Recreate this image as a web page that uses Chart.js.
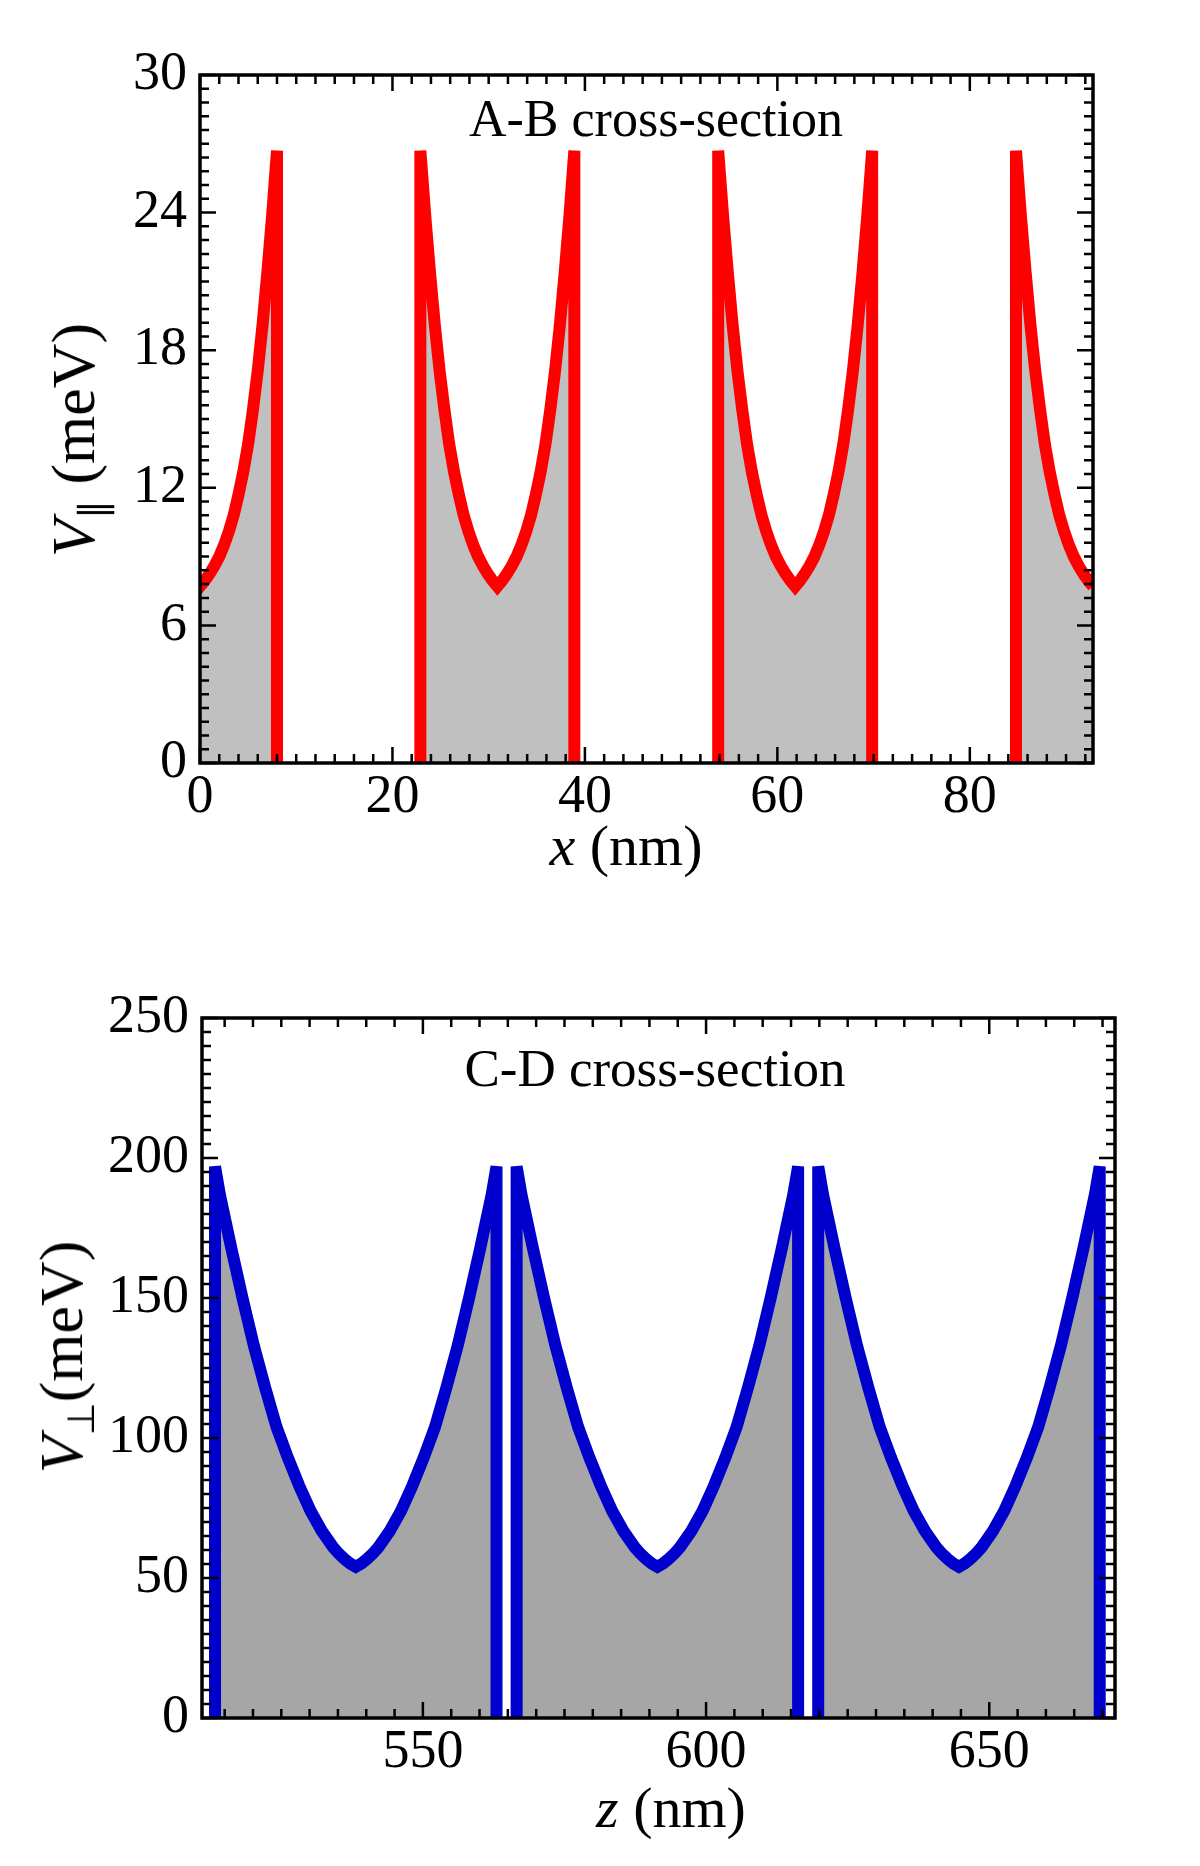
<!DOCTYPE html>
<html>
<head>
<meta charset="utf-8">
<script src="https://cdn.jsdelivr.net/npm/chart.js@4.4.1/dist/chart.umd.min.js"></script>
<style>
  body { margin: 0; background: #fff; }
  #wrap { position: relative; width: 1200px; height: 1866px; font-family: "Liberation Serif", "Times New Roman", serif; color: #000; }
  canvas { position: absolute; left: 0; }
  .lbl { position: absolute; white-space: nowrap; line-height: 1; }
  .ctr { transform: translate(-50%, -50%); }
  .rot { transform: translate(-50%, -50%) rotate(-90deg); }
  sub { font-size: 0.62em; vertical-align: -0.3em; font-style: normal; }
</style>
</head>
<body>
<div id="wrap">
  <canvas id="ab" width="1200" height="933" style="top:0"></canvas>
  <canvas id="cd" width="1200" height="933" style="top:933px"></canvas>

  <div class="lbl ctr" style="left:656px;top:119px;font-size:52px">A-B cross-section</div>
  <div class="lbl rot" style="left:77px;top:440px;font-size:62px"><i>V</i><sub>&#8741;</sub> (meV)</div>
  <div class="lbl ctr" style="left:626px;top:846px;font-size:58px"><i>x</i> (nm)</div>

  <div class="lbl ctr" style="left:655px;top:1068px;font-size:53px">C-D cross-section</div>
  <div class="lbl rot" style="left:65px;top:1357px;font-size:62px"><i>V</i><sub>&#8869;</sub>(meV)</div>
  <div class="lbl ctr" style="left:671px;top:1808px;font-size:58px"><i>z</i> (nm)</div>
</div>
<script>
/* A-B cross-section, V parallel */
const abCentres = [0, 30.9, 61.85, 92.8];                          // well centres (nm)
const abDist = [0, 0.5, 1, 1.5, 2, 2.5, 3, 3.5, 4, 4.5, 5, 5.5, 6, 6.5, 7, 7.5, 8]; // from centre (nm)
const abV = [7.7, 7.95, 8.25, 8.6, 9.0, 9.5, 10.1, 10.8, 11.7, 12.7, 13.9, 15.4, 17.1, 19.1, 21.4, 23.9, 26.7]; // meV
const abXTicks = [0, 20, 40, 60, 80];
const abYTicks = [0, 6, 12, 18, 24, 30];

/* C-D cross-section, V perpendicular */
const cdCentres = [538.15, 591.4, 644.65];
const cdDist = [0, 1, 2, 3, 4, 6, 8, 10, 12, 14, 16, 18, 20, 22, 24, 24.85];
const cdV = [54, 55.2, 56.8, 58.7, 61, 66.8, 74, 83, 93, 104, 118, 133, 150, 168, 187, 197];
const cdXTicks = [550, 600, 650];
const cdYTicks = [0, 50, 100, 150, 200, 250];

const FONT = "'Liberation Serif', 'Times New Roman', serif";

// one well: wall up, profile down to the centre and back up, wall down
function well(c, dist, vals) {
  const h = dist[dist.length - 1];
  const pts = [{ x: c - h, y: 0 }];
  for (let i = dist.length - 1; i >= 0; i--) pts.push({ x: c - dist[i], y: vals[i] });
  for (let i = 1; i < dist.length; i++) pts.push({ x: c + dist[i], y: vals[i] });
  pts.push({ x: c + h, y: 0 });
  return pts;
}

// box + inward major/minor ticks on all four sides
const frameTicks = {
  id: "frameTicks",
  afterDatasetsDraw(chart, args, o) {
    const { ctx, chartArea: a, scales: { x, y } } = chart;
    ctx.save();
    ctx.strokeStyle = "#000";
    ctx.lineWidth = 2.5;
    const run = (scale, minor, major, fn) => {
      const i0 = Math.ceil(scale.min / minor - 1e-6);
      for (let i = i0; i * minor <= scale.max + 1e-6; i++) {
        const v = i * minor;
        const r = v / major;
        const len = Math.abs(r - Math.round(r)) < 1e-6 ? 16 : 9;
        fn(scale.getPixelForValue(v), len);
      }
    };
    ctx.beginPath();
    run(x, o.xMinor, o.xMajor, (p, len) => {
      ctx.moveTo(p, a.bottom); ctx.lineTo(p, a.bottom - len);
      ctx.moveTo(p, a.top); ctx.lineTo(p, a.top + len);
    });
    run(y, o.yMinor, o.yMajor, (p, len) => {
      ctx.moveTo(a.left, p); ctx.lineTo(a.left + len, p);
      ctx.moveTo(a.right, p); ctx.lineTo(a.right - len, p);
    });
    ctx.stroke();
    ctx.lineWidth = 3.5;
    ctx.strokeRect(a.left, a.top, a.right - a.left, a.bottom - a.top);
    ctx.restore();
  }
};

function makeChart(id, cfg) {
  const datasets = cfg.centres.map(c => ({
    data: well(c, cfg.dist, cfg.vals),
    showLine: true,
    pointRadius: 0,
    borderColor: cfg.line,
    borderWidth: 12,
    borderJoinStyle: "miter",
    backgroundColor: cfg.fill,
    fill: "origin",
    tension: 0
  }));
  const tickFont = { family: FONT, size: 54, lineHeight: 1 };
  return new Chart(document.getElementById(id), {
    type: "scatter",
    data: { datasets },
    options: {
      responsive: false,
      animation: false,
      layout: { padding: cfg.pad },
      plugins: {
        legend: { display: false },
        tooltip: { enabled: false },
        frameTicks: cfg.ticks
      },
      scales: {
        x: {
          type: "linear", min: cfg.xMin, max: cfg.xMax,
          grid: { display: false }, border: { display: false },
          afterBuildTicks: s => { s.ticks = cfg.xTicks.map(v => ({ value: v })); },
          afterFit: s => { s.height = cfg.xH; },
          ticks: { font: tickFont, color: "#000", padding: 0, maxRotation: 0, autoSkip: false }
        },
        y: {
          min: cfg.yMin, max: cfg.yMax,
          grid: { display: false }, border: { display: false },
          afterBuildTicks: s => { s.ticks = cfg.yTicks.map(v => ({ value: v })); },
          afterFit: s => { s.width = cfg.yW; },
          ticks: { font: tickFont, color: "#000", padding: 5, autoSkip: false }
        }
      }
    },
    plugins: [frameTicks]
  });
}

makeChart("ab", {
  centres: abCentres, dist: abDist, vals: abV,
  line: "#ff0000", fill: "#c0c0c0",
  xMin: 0, xMax: 92.8, yMin: 0, yMax: 30,
  xTicks: abXTicks, yTicks: abYTicks,
  pad: { left: 0, top: 75, right: 107, bottom: 0 },
  yW: 200, xH: 170,
  ticks: { xMinor: 2, xMajor: 20, yMinor: 0.6, yMajor: 6 }
});

makeChart("cd", {
  centres: cdCentres, dist: cdDist, vals: cdV,
  line: "#0000cc", fill: "#a6a6a6",
  xMin: 511, xMax: 672.2, yMin: 0, yMax: 250,
  xTicks: cdXTicks, yTicks: cdYTicks,
  pad: { left: 0, top: 85, right: 85, bottom: 0 },
  yW: 202, xH: 148,
  ticks: { xMinor: 5, xMajor: 50, yMinor: 5, yMajor: 50 }
});
</script>
</body>
</html>
